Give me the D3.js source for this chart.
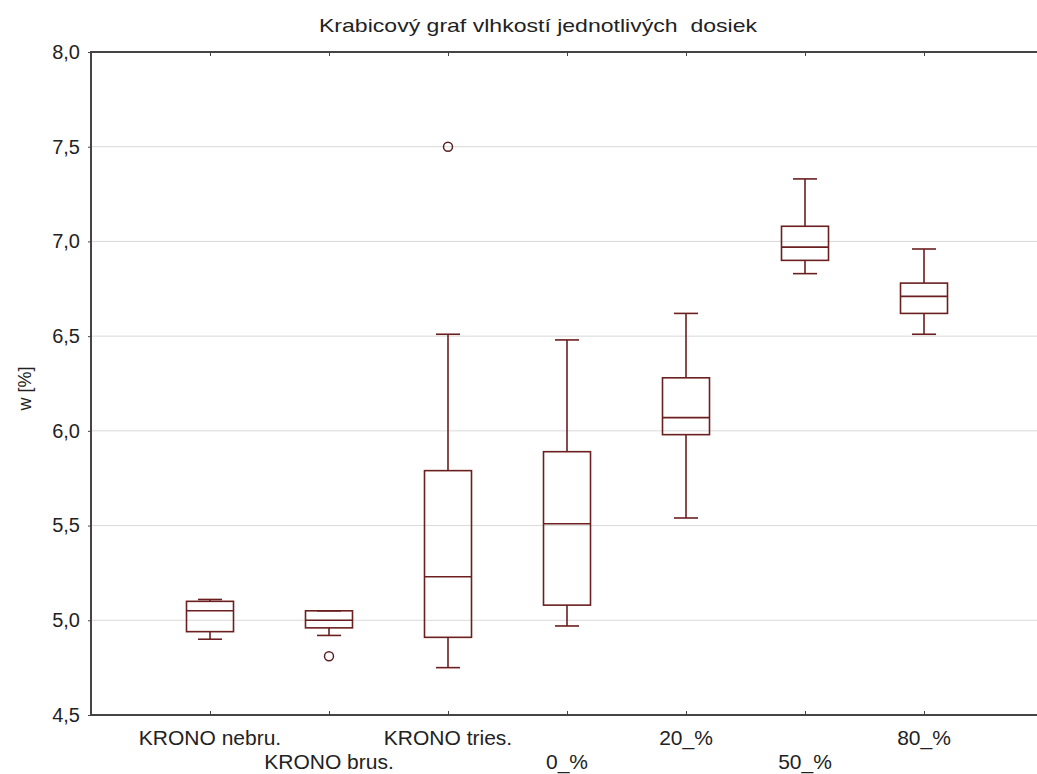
<!DOCTYPE html>
<html lang="sk">
<head>
  <meta charset="UTF-8">
  <script src="https://d3js.org/d3.v7.min.js"></script>
  <title>Krabicový graf vlhkostí jednotlivých dosiek</title>
  <style>
    body { margin: 0; background: #fff; }
    text { font-family: "Liberation Sans", Arial, sans-serif; fill: #222; }
    .grid line { stroke: #d9d9d9; stroke-width: 1px; }
    .box rect, .box line { stroke: #6b1f1f; stroke-width: 1.6px; fill: none; }
    .outlier { stroke: #5a2222; stroke-width: 1.5px; fill: none; }
  </style>
</head>
<body>
  <svg width="1037" height="774"></svg>

  <script>
    const width = 1037, height = 774;
    const margin = { top: 52, left: 91, bottom: 59 };

    // box plot data
    const categories = ["KRONO nebru.", "KRONO brus.", "KRONO tries.", "0_%", "20_%", "50_%", "80_%"];
    const whiskerLow  = [4.90, 4.92, 4.75, 4.97, 5.54, 6.83, 6.51];
    const q1          = [4.94, 4.96, 4.91, 5.08, 5.98, 6.90, 6.62];
    const median      = [5.05, 5.00, 5.23, 5.51, 6.07, 6.97, 6.71];
    const q3          = [5.10, 5.05, 5.79, 5.89, 6.28, 7.08, 6.78];
    const whiskerHigh = [5.11, 5.05, 6.51, 6.48, 6.62, 7.33, 6.96];
    const outliers    = [{ cat: 1, value: 4.81 }, { cat: 2, value: 7.50 }];
    const yTicks = [4.5, 5.0, 5.5, 6.0, 6.5, 7.0, 7.5, 8.0];

    const svg = d3.select("svg");
    const plotBottom = height - margin.bottom;

    const x = d3.scaleLinear().domain([0, categories.length + 1]).range([margin.left, 1043]);
    const y = d3.scaleLinear().domain([4.5, 8.0]).range([plotBottom, margin.top]);
    const fmt = d => d3.format(".1f")(d).replace(".", ",");

    // grid
    svg.append("g")
      .attr("class", "grid")
      .selectAll("line")
      .data(yTicks.slice(1, -1))
      .join("line")
      .attr("x1", margin.left).attr("x2", width)
      .attr("y1", d => y(d)).attr("y2", d => y(d));

    // y axis
    const yAxis = svg.append("g")
      .attr("transform", `translate(${margin.left},0)`)
      .call(d3.axisLeft(y).tickValues(yTicks).tickFormat(fmt).tickSize(3).tickPadding(8));
    yAxis.select(".domain").remove();
    yAxis.selectAll(".tick line").attr("stroke", "#444");
    yAxis.selectAll("text").style("font-size", "20px").attr("fill", "#222");

    // x axis (ticks point inwards)
    const pos = categories.map((c, i) => i + 1);
    const xAxis = svg.append("g")
      .attr("transform", `translate(0,${plotBottom})`)
      .call(d3.axisBottom(x).tickValues(pos).tickSize(-4).tickFormat(""));
    xAxis.select(".domain").remove();
    xAxis.selectAll(".tick line").attr("stroke", "#444");

    const xTop = svg.append("g")
      .attr("transform", `translate(0,${margin.top})`)
      .call(d3.axisTop(x).tickValues(pos).tickSize(-4).tickFormat(""));
    xTop.select(".domain").remove();
    xTop.selectAll(".tick line").attr("stroke", "#444");

    // staggered category labels
    svg.append("g")
      .selectAll("text")
      .data(categories)
      .join("text")
      .attr("x", (d, i) => x(i + 1))
      .attr("y", (d, i) => i % 2 === 0 ? plotBottom + 30 : plotBottom + 54)
      .attr("text-anchor", "middle")
      .style("font-size", "21px")
      .text(d => d);

    // frame
    svg.append("path")
      .attr("d", `M${width + 5},${margin.top}H${margin.left}V${plotBottom}H${width + 5}`)
      .attr("fill", "none")
      .attr("stroke", "#444")
      .attr("stroke-width", 2);

    // boxes
    const boxW = 47, capW = 24;
    const box = svg.append("g")
      .selectAll("g")
      .data(categories)
      .join("g")
      .attr("class", "box")
      .attr("transform", (d, i) => `translate(${x(i + 1)},0)`);

    box.append("line")
      .attr("y1", (d, i) => y(whiskerHigh[i])).attr("y2", (d, i) => y(q3[i]));
    box.append("line")
      .attr("y1", (d, i) => y(q1[i])).attr("y2", (d, i) => y(whiskerLow[i]));
    box.append("line")
      .attr("x1", -capW / 2).attr("x2", capW / 2)
      .attr("y1", (d, i) => y(whiskerHigh[i])).attr("y2", (d, i) => y(whiskerHigh[i]));
    box.append("line")
      .attr("x1", -capW / 2).attr("x2", capW / 2)
      .attr("y1", (d, i) => y(whiskerLow[i])).attr("y2", (d, i) => y(whiskerLow[i]));
    box.append("rect")
      .attr("x", -boxW / 2).attr("width", boxW)
      .attr("y", (d, i) => y(q3[i]))
      .attr("height", (d, i) => y(q1[i]) - y(q3[i]))
      .attr("fill", "#fff");
    box.append("line")
      .attr("x1", -boxW / 2).attr("x2", boxW / 2)
      .attr("y1", (d, i) => y(median[i])).attr("y2", (d, i) => y(median[i]));

    svg.append("g")
      .selectAll("circle")
      .data(outliers)
      .join("circle")
      .attr("class", "outlier")
      .attr("cx", d => x(d.cat + 1))
      .attr("cy", d => y(d.value))
      .attr("r", 4.5);

    // titles
    svg.append("text")
      .attr("x", 538).attr("y", 32)
      .attr("text-anchor", "middle")
      .attr("textLength", 438)
      .attr("lengthAdjust", "spacingAndGlyphs")
      .style("font-size", "19px")
      .text("Krabicový graf vlhkostí jednotlivých  dosiek")
      .attr("xml:space", "preserve");

    svg.append("text")
      .attr("transform", `translate(31,${(margin.top + plotBottom) / 2 + 5}) rotate(-90)`)
      .attr("text-anchor", "middle")
      .style("font-size", "18px")
      .text("w [%]");
  </script>
</body>
</html>
